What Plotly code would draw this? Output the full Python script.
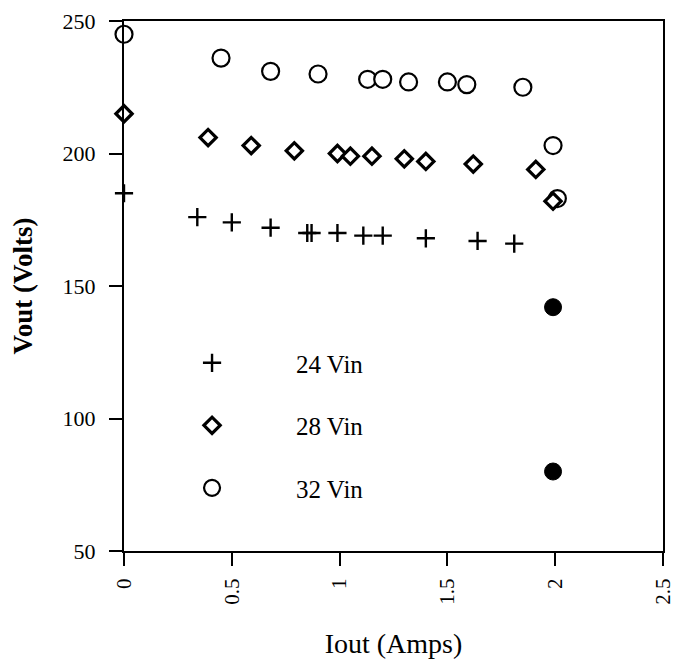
import plotly.graph_objects as go

# Iout (Amps) / Vout (Volts)
x24 = [0, 0.34, 0.50, 0.68, 0.85, 0.87, 0.99, 1.11, 1.20, 1.40, 1.64, 1.81]
y24 = [185, 176, 174, 172, 170, 170, 170, 169, 169, 168, 167, 166]

x28 = [0, 0.39, 0.59, 0.79, 0.99, 1.05, 1.15, 1.30, 1.40, 1.62, 1.91, 1.99]
y28 = [215, 206, 203, 201, 200, 199, 199, 198, 197, 196, 194, 182]

x32 = [0, 0.45, 0.68, 0.90, 1.13, 1.20, 1.32, 1.50, 1.59, 1.85, 1.99, 2.01]
y32 = [245, 236, 231, 230, 228, 228, 227, 227, 226, 225, 203, 183]

x_filled = [1.99, 1.99]
y_filled = [142, 80]

x_ticks = [0, 0.5, 1, 1.5, 2, 2.5]
x_ticktext = ["0", "0.5", "1", "1.5", "2", "2.5"]
y_ticks = [50, 100, 150, 200, 250]

FONT = "Liberation Serif"

fig = go.Figure()
fig.add_trace(go.Scatter(
    x=x32, y=y32, mode="markers", name="32 Vin", legendgroup="c", legendrank=3,
    cliponaxis=False,
    marker=dict(symbol="circle", size=17, color="white", line=dict(color="black", width=2.2)),
))
fig.add_trace(go.Scatter(
    x=x28, y=y28, mode="markers", name="28 Vin", legendgroup="b", legendrank=2,
    cliponaxis=False,
    marker=dict(symbol="diamond", size=12.5, color="white", line=dict(color="black", width=3.2)),
))
fig.add_trace(go.Scatter(
    x=x24, y=y24, mode="markers", name="24 Vin", legendgroup="a", legendrank=1,
    cliponaxis=False,
    marker=dict(symbol="cross-thin", size=13, color="black", line=dict(color="black", width=2.4)),
))
fig.add_trace(go.Scatter(
    x=x_filled, y=y_filled, mode="markers", showlegend=False, cliponaxis=False,
    marker=dict(symbol="circle", size=17, color="black", line=dict(color="black", width=1)),
))

fig.update_layout(
    width=673, height=654,
    margin=dict(l=116, r=18, t=13, b=111),
    paper_bgcolor="white", plot_bgcolor="white",
    font=dict(family=FONT, color="black", size=21),
    showlegend=True,
    legend=dict(
        x=0.0075, y=0.398, xanchor="left", yanchor="top",
        bgcolor="rgba(0,0,0,0)", borderwidth=0,
        itemwidth=158, tracegroupgap=27,
        font=dict(family=FONT, size=25, color="black"),
    ),
    xaxis=dict(
        range=[0, 2.5], tickvals=x_ticks, ticktext=x_ticktext, tickangle=-90,
        showline=True, linecolor="black", linewidth=2, mirror=True,
        ticks="outside", ticklen=13, tickwidth=2, tickcolor="black",
        showgrid=False, zeroline=False, ticklabelstandoff=4,
        ticklabeloverflow="allow",
        tickfont=dict(family=FONT, size=21),
        title=dict(text="Iout (Amps)", font=dict(family=FONT, size=28), standoff=30),
        automargin=False,
    ),
    yaxis=dict(
        range=[50, 250], tickvals=y_ticks,
        showline=True, linecolor="black", linewidth=2, mirror=True,
        ticks="outside", ticklen=13, tickwidth=2, tickcolor="black",
        showgrid=False, zeroline=False, ticklabelstandoff=9,
        ticklabeloverflow="allow",
        tickfont=dict(family=FONT, size=22),
        title=dict(text="<b>Vout (Volts)</b>", font=dict(family=FONT, size=27), standoff=22),
        automargin=False,
    ),
)

fig.write_html("out.html")
